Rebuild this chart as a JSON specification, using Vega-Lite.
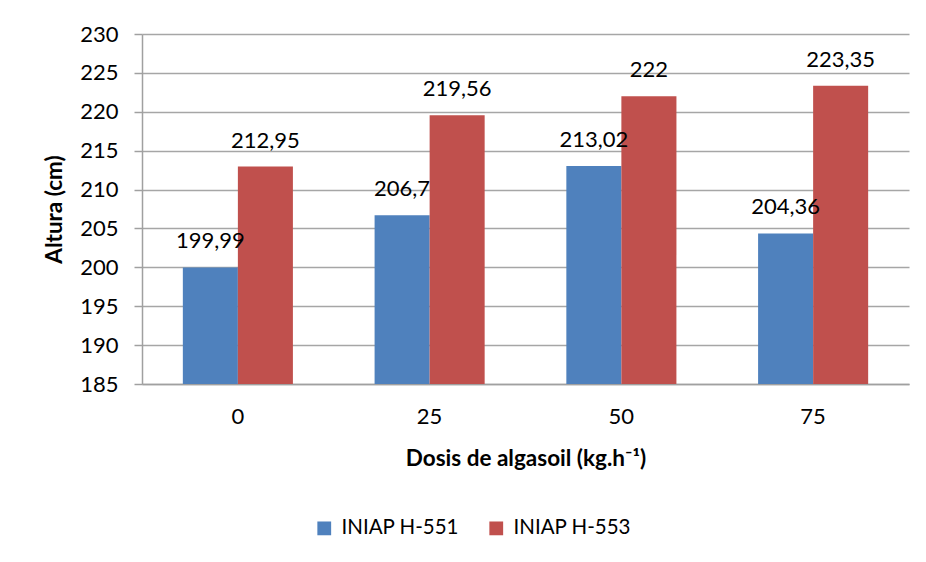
{
  "$schema": "https://vega.github.io/schema/vega-lite/v6.json",
  "autosize": "none",
  "width": 767,
  "height": 350,
  "padding": {"left": 142, "top": 34, "right": 17, "bottom": 178},
  "background": "white",
  "data": {
    "values": [
      {"dosis": "0", "variedad": "INIAP H-551", "altura": 199.99},
      {"dosis": "0", "variedad": "INIAP H-553", "altura": 212.95},
      {"dosis": "25", "variedad": "INIAP H-551", "altura": 206.7},
      {"dosis": "25", "variedad": "INIAP H-553", "altura": 219.56},
      {"dosis": "50", "variedad": "INIAP H-551", "altura": 213.02},
      {"dosis": "50", "variedad": "INIAP H-553", "altura": 222},
      {"dosis": "75", "variedad": "INIAP H-551", "altura": 204.36},
      {"dosis": "75", "variedad": "INIAP H-553", "altura": 223.35}
    ]
  },
  "encoding": {
    "x": {
      "field": "dosis",
      "type": "nominal",
      "sort": ["0", "25", "50", "75"],
      "scale": {"paddingInner": 0.426, "paddingOuter": 0.213},
      "axis": {
        "title": "Dosis de algasoil (kg.h⁻¹)",
        "labelAngle": 0,
        "ticks": false,
        "labelPadding": 22,
        "titlePadding": 20,
        "grid": false
      }
    },
    "xOffset": {
      "field": "variedad",
      "type": "nominal",
      "scale": {"paddingInner": 0, "paddingOuter": 0}
    },
    "y": {
      "field": "altura",
      "type": "quantitative",
      "scale": {"domain": [185, 230], "zero": false, "nice": false},
      "axis": {
        "title": "Altura (cm)",
        "values": [185, 190, 195, 200, 205, 210, 215, 220, 225, 230],
        "tickSize": 8,
        "labelPadding": 16,
        "titlePadding": 13
      }
    }
  },
  "layer": [
    {
      "mark": {"type": "bar"},
      "encoding": {
        "y2": {"datum": 185},
        "color": {
          "field": "variedad",
          "type": "nominal",
          "scale": {"domain": ["INIAP H-551", "INIAP H-553"], "range": ["#4F81BD", "#C0504D"]},
          "legend": {
            "title": null,
            "orient": "none",
            "legendX": 172,
            "legendY": 484,
            "direction": "horizontal",
            "symbolType": "square",
            "symbolSize": 190,
            "symbolStrokeWidth": 0,
            "labelOffset": 7,
            "columnPadding": 26,
            "padding": 0
          }
        }
      }
    },
    {
      "mark": {"type": "text", "baseline": "alphabetic", "dy": -19, "fontSize": 22, "color": "#000000"},
      "encoding": {
        "text": {"field": "altura", "type": "quantitative", "format": ".2~f"}
      }
    }
  ],
  "config": {
    "locale": {
      "number": {"decimal": ",", "thousands": ".", "grouping": [3], "currency": ["", " €"]}
    },
    "font": "Lato",
    "view": {"stroke": null},
    "axis": {
      "labelFont": "Lato",
      "labelFontSize": 22,
      "labelColor": "#000000",
      "titleFont": "Lato",
      "titleFontSize": 22.5,
      "titleFontWeight": "bold",
      "titleColor": "#000000",
      "domainColor": "#a0a0a0",
      "domainWidth": 1.5,
      "tickColor": "#a0a0a0",
      "tickWidth": 1.5,
      "gridColor": "#a6a6a6",
      "gridWidth": 1.3
    },
    "legend": {
      "labelFont": "Lato",
      "labelFontSize": 20.5,
      "labelColor": "#000000"
    }
  }
}
